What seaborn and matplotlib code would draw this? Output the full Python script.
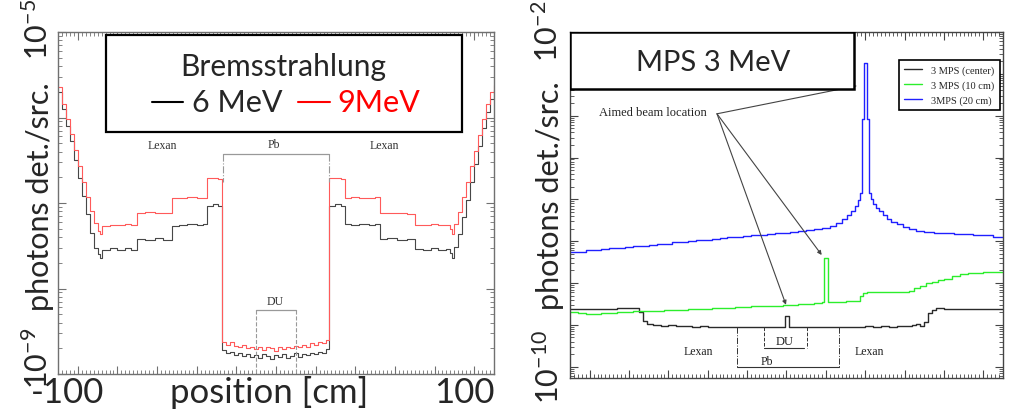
import numpy as np
import pandas as pd
import seaborn as sns
import matplotlib.pyplot as plt
from matplotlib.patches import Rectangle
from matplotlib.ticker import MultipleLocator, LogLocator, NullFormatter

# ---- left panel: bremsstrahlung scan (position in cm, log10 of photons det./src.)
pos_brems = [-110, -108, -106, -104, -102, -100, -98, -96, -94, -92, -90, -89,
             -88, -84, -80, -76, -73,
             -70, -66, -61, -57,
             -52.5, -49, -45, -40, -37,
             -35, -32, -29.5,
             -27, -25, -23, -21, -19, -17, -15, -13, -11, -9, -7, -5, -3, -1,
             1, 3, 5, 7, 9, 11, 13, 15, 17, 19, 21, 23, 25,
             27, 30, 33,
             35, 38, 42, 47, 50,
             52.5, 56, 61, 66,
             70, 74, 78, 82, 86,
             88, 89, 90, 92, 94, 96, 98, 100, 102, 104, 106, 108, 110]
log_6mev = [-5.70, -5.90, -6.10, -6.28, -6.50, -6.71, -6.92, -7.13, -7.35, -7.53, -7.60, -7.64,
            -7.55, -7.53, -7.545, -7.53, -7.545,
            -7.42, -7.43, -7.41, -7.43,
            -7.27, -7.26, -7.25, -7.26, -7.24,
            -7.04, -7.01, -7.03,
            -8.72, -8.75, -8.74, -8.78, -8.76, -8.79, -8.77, -8.80, -8.78, -8.81, -8.77, -8.79, -8.82, -8.78,
            -8.80, -8.77, -8.81, -8.79, -8.76, -8.80, -8.77, -8.78, -8.75, -8.77, -8.74, -8.76, -8.71,
            -7.03, -7.01, -7.04,
            -7.25, -7.26, -7.24, -7.26, -7.25,
            -7.42, -7.41, -7.43, -7.42,
            -7.54, -7.545, -7.53, -7.55, -7.54,
            -7.58, -7.64, -7.52, -7.36, -7.16, -6.96, -6.75, -6.54, -6.33, -6.12, -5.93, -5.78, -5.68]
log_9mev = [-5.64, -5.84, -6.02, -6.19, -6.38, -6.57, -6.75, -6.93, -7.09, -7.23, -7.33, -7.36,
            -7.27, -7.255, -7.26, -7.25, -7.26,
            -7.12, -7.11, -7.12, -7.115,
            -6.94, -6.945, -6.935, -6.94, -6.945,
            -6.71, -6.71, -6.715,
            -8.63, -8.66, -8.62, -8.67, -8.69, -8.66, -8.70, -8.68, -8.71, -8.69, -8.72, -8.68, -8.70, -8.73,
            -8.69, -8.71, -8.68, -8.70, -8.67, -8.69, -8.66, -8.68, -8.64, -8.66, -8.62, -8.64, -8.60,
            -6.71, -6.705, -6.715,
            -6.94, -6.935, -6.945, -6.94, -6.935,
            -7.12, -7.115, -7.12, -7.125,
            -7.255, -7.26, -7.25, -7.26, -7.255,
            -7.30, -7.36, -7.25, -7.10, -6.93, -6.75, -6.57, -6.39, -6.20, -6.02, -5.84, -5.70, -5.62]

# ---- right panel: MPS 3 MeV
pos_center = [-110, -106, -102, -98, -94, -90, -86, -82, -78, -75, -73, -71,
              -68, -64, -60, -56, -52, -48, -44, -40, -36, -32, -28, -24, -20, -16, -12, -8, -4,
              -0.8, 1.4,
              4, 8, 12, 16, 20, 24, 28, 32, 36, 40, 44, 48, 52, 56, 60, 64,
              66, 68, 70, 72, 74, 76,
              80, 85, 90, 95, 100, 105, 110]
log_center = [-8.63, -8.62, -8.625, -8.615, -8.62, -8.61, -8.60, -8.59, -8.595, -8.70, -8.90, -8.98,
              -9.00, -9.02, -9.01, -9.03, -9.02, -9.04, -9.03, -9.05, -9.04, -9.06, -9.05, -9.06, -9.04,
              -9.06, -9.05, -9.06, -9.05,
              -8.79, -9.05,
              -9.06, -9.05, -9.06, -9.05, -9.06, -9.04, -9.05, -9.04, -9.05, -9.03, -9.04, -9.03, -9.04,
              -9.02, -9.03, -9.01,
              -8.98, -9.02, -8.92, -8.72, -8.64, -8.60,
              -8.61, -8.62, -8.615, -8.62, -8.625, -8.63, -8.63]

pos_10cm = [-110, -106, -102, -98, -94, -90, -86, -82, -78, -74, -70, -66, -62, -58, -54, -50, -46,
            -42, -38, -34, -30, -26, -22, -18, -14, -10, -6, -2, 2, 6, 10, 14, 18,
            19.2, 21.2,
            25, 30, 35, 37.3, 39, 40.7,
            45, 50, 55, 59, 62, 65, 68, 71, 74, 77, 80, 84, 88, 92, 96, 100, 105, 110]
log_10cm = [-8.69, -8.72, -8.74, -8.735, -8.72, -8.715, -8.70, -8.695, -8.68, -8.675, -8.665, -8.66,
            -8.65, -8.645, -8.635, -8.625, -8.62, -8.61, -8.60, -8.59, -8.585, -8.575, -8.57, -8.56,
            -8.555, -8.545, -8.54, -8.525, -8.515, -8.50, -8.49, -8.47, -8.46,
            -7.41, -8.445,
            -8.445, -8.44, -8.42, -8.32, -8.25, -8.22,
            -8.22, -8.215, -8.21, -8.21, -8.18, -8.12, -8.06, -8.01, -7.97, -7.93, -7.90, -7.84,
            -7.79, -7.77, -7.75, -7.74, -7.73, -7.73]

pos_20cm = [-110, -106, -102, -98, -94, -90, -86, -82, -78, -74, -70, -66, -62, -58, -54, -50, -46,
            -42, -38, -34, -30, -26, -22, -18, -14, -10, -6, -2, 2, 6, 10, 14, 18, 22,
            25, 28, 31, 33, 35, 36.5, 37.5,
            38.2, 39.5, 41.1, 42.1,
            43, 44.1, 45.5, 47, 49, 51, 53, 56, 59, 62, 66,
            70, 75, 80, 85, 90, 95, 100, 105, 110]
log_20cm = [-7.27, -7.25, -7.22, -7.21, -7.19, -7.17, -7.16, -7.14, -7.12, -7.11, -7.09, -7.07,
            -7.06, -7.03, -7.02, -6.99, -6.98, -6.96, -6.94, -6.93, -6.91, -6.89, -6.88, -6.85,
            -6.84, -6.82, -6.81, -6.80, -6.78, -6.76, -6.74, -6.71, -6.69, -6.63,
            -6.56, -6.47, -6.38, -6.27, -6.17, -6.02, -5.85,
            -4.07, -2.73, -4.07, -5.85,
            -6.00, -6.10, -6.20, -6.29, -6.38, -6.46, -6.53, -6.60, -6.66, -6.71, -6.75,
            -6.78, -6.80, -6.81, -6.82, -6.83, -6.85, -6.86, -6.89, -6.91]

# material brackets (cm)
pb_left = (-26.6, 26.8)
du_left = (-10.2, 10.1)
pb_right = (-25.3, 26.8)
du_right = (-11.3, 10.3)


def to_df(pos, logs, name):
    return pd.DataFrame({"pos": pos, "flux": 10 ** np.array(logs), "series": name})


def px(x, y):
    # pixel position in the 1012x410 picture -> figure fraction
    return x / 1012, 1 - y / 410


sns.set_style("ticks")
plt.rcParams['font.family'] = ['Lato', 'DejaVu Sans']
plt.rcParams['mathtext.fontset'] = 'custom'
plt.rcParams['mathtext.rm'] = 'Lato'

fig = plt.figure(figsize=(10.12, 4.10), dpi=100)
ax1 = fig.add_axes([0.0573, 0.0854, 0.4308, 0.834])
ax2 = fig.add_axes([0.5632, 0.0756, 0.4279, 0.8439])

brems = pd.concat([to_df(pos_brems, log_6mev, "6 MeV"), to_df(pos_brems, log_9mev, "9MeV")])
sns.lineplot(data=brems, x="pos", y="flux", hue="series",
             palette={"6 MeV": "#474747", "9MeV": "#ff5a5a"}, estimator=None,
             drawstyle="steps-post", linewidth=0.8, legend=False, ax=ax1)

mps = pd.concat([to_df(pos_center, log_center, "3 MPS (center)"),
                 to_df(pos_10cm, log_10cm, "3 MPS (10 cm)"),
                 to_df(pos_20cm, log_20cm, "3MPS (20 cm)")])
sns.lineplot(data=mps, x="pos", y="flux", hue="series",
             hue_order=["3 MPS (center)", "3 MPS (10 cm)", "3MPS (20 cm)"],
             palette={"3 MPS (center)": "#2a2a2a", "3 MPS (10 cm)": "#2cee2c", "3MPS (20 cm)": "#2020ff"},
             estimator=None, drawstyle="steps-post", linewidth=1.0, ax=ax2)

ax1.set_yscale("log")
ax1.set_ylim(1e-9, 1e-5)
ax2.set_yscale("log")
ax2.set_ylim(10 ** -10.27, 1e-2)

for ax, frame in ((ax1, "#707070"), (ax2, "#444444")):
    ax.set_xlim(-110, 110)
    ax.xaxis.set_major_locator(MultipleLocator(20))
    ax.xaxis.set_minor_locator(MultipleLocator(2))
    ax.yaxis.set_major_locator(LogLocator(base=10, numticks=20))
    ax.yaxis.set_minor_locator(LogLocator(base=10, subs=np.arange(2, 10), numticks=100))
    ax.yaxis.set_minor_formatter(NullFormatter())
    ax.tick_params(which="both", direction="in", top=True, right=True,
                   labelbottom=False, labelleft=False, colors=frame)
    ax.tick_params(which="major", length=6, width=0.8)
    ax.tick_params(which="minor", length=3, width=0.6)
    ax.set_xlabel("")
    ax.set_ylabel("")
    for sp in ax.spines.values():
        sp.set_color(frame)
        sp.set_linewidth(1.0)

# left panel annotations
serif = "Liberation Serif"
ax1.text(-57.4, 10 ** -6.318, "Lexan", ha="center", va="center", family=serif, fontsize=8.5, color="#333333")
ax1.text(54.9, 10 ** -6.318, "Lexan", ha="center", va="center", family=serif, fontsize=8.5, color="#333333")
ax1.text(-1, 10 ** -6.31, "Pb", ha="center", va="center", family=serif, fontsize=8.5, color="#333333")
ax1.text(-0.5, 10 ** -8.15, "DU", ha="center", va="center", family=serif, fontsize=8.5, color="#333333")
ax1.plot(pb_left, [10 ** -6.427] * 2, color="#999999", lw=0.9)
for xv in pb_left:
    ax1.plot([xv, xv], [10 ** -6.427, 10 ** -6.75], color="#999999", lw=0.8, ls="-.")
ax1.plot(du_left, [10 ** -8.248] * 2, color="#999999", lw=0.9)
for xv in du_left:
    ax1.plot([xv, xv], [10 ** -8.248, 1e-9], color="#999999", lw=0.8, ls="--")

ax1.add_patch(Rectangle((0.110, 0.7085), 0.816, 0.2825, transform=ax1.transAxes,
                        facecolor="white", edgecolor="black", lw=1.6, zorder=5))
ax1.text(0.516, 0.9015, "Bremsstrahlung", transform=ax1.transAxes, ha="center", va="center",
         fontsize=21.5, zorder=6)
ax1.plot([0.2156, 0.2867], [0.7944] * 2, transform=ax1.transAxes, color="black", lw=1.5, zorder=6)
ax1.text(0.3073, 0.7944, "6 MeV", transform=ax1.transAxes, ha="left", va="center", fontsize=22, zorder=6)
ax1.plot([0.5505, 0.624], [0.7944] * 2, transform=ax1.transAxes, color="red", lw=1.5, zorder=6)
ax1.text(0.6399, 0.7944, "9MeV", transform=ax1.transAxes, ha="left", va="center", fontsize=22,
         color="red", zorder=6)

# right panel annotations
ax2.text(-45, 10 ** -9.62, "Lexan", ha="center", va="center", family=serif, fontsize=8.5, color="#222222")
ax2.text(41.9, 10 ** -9.62, "Lexan", ha="center", va="center", family=serif, fontsize=8.5, color="#222222")
ax2.text(-10.1, 10 ** -9.86, "Pb", ha="center", va="center", family=serif, fontsize=8.5, color="#222222")
ax2.text(-0.9, 10 ** -9.38, "DU", ha="center", va="center", family=serif, fontsize=9, color="#222222")
ax2.plot(pb_right, [10 ** -10.01] * 2, color="#333333", lw=0.8)
for xv in pb_right:
    ax2.plot([xv, xv], [10 ** -9.05, 10 ** -10.01], color="#333333", lw=0.7, ls="-.")
ax2.plot([du_right[0], 9.0], [10 ** -9.55] * 2, color="#333333", lw=0.8)
for xv in du_right:
    ax2.plot([xv, xv], [10 ** -9.05, 10 ** -9.55], color="#333333", lw=0.7, ls="--")

ax2.text(-95.3, 10 ** -3.907, "Aimed beam location", ha="left", va="center", family=serif,
         fontsize=9, color="#222222")
ax2.plot([-35.3, 35.3], [10 ** -3.955, 10 ** -3.29], color="#444444", lw=0.8, zorder=3)
for tx, ty in ((17.9, -7.33), (-0.25, -8.52)):
    ax2.annotate("", xy=(tx, 10 ** ty), xytext=(-35.3, 10 ** -3.955),
                 arrowprops=dict(arrowstyle="-|>", color="#444444", lw=0.8, mutation_scale=6,
                                 shrinkA=0, shrinkB=0))

ax2.add_patch(Rectangle((0.0, 0.834), 0.656, 0.166, transform=ax2.transAxes,
                        facecolor="white", edgecolor="black", lw=1.8, zorder=5))
ax2.text(0.331, 0.912, "MPS 3 MeV", transform=ax2.transAxes, ha="center", va="center",
         fontsize=21, zorder=6)

sns.move_legend(ax2, "upper left", bbox_to_anchor=(0.748, 0.935), title=None, frameon=True,
                fancybox=False, edgecolor="black", framealpha=1, borderpad=0.5,
                handlelength=1.7, handletextpad=0.9, labelspacing=0.55,
                prop={"family": serif, "size": 7.5})
ax2.get_legend().get_frame().set_linewidth(1.2)

# axis texts laid over the panels
fig.text(*px(40, 197), "photons det./src.", rotation=90, ha="center", va="center", fontsize=22)
fig.text(*px(550, 196), "photons det./src.", rotation=90, ha="center", va="center", fontsize=22)
fig.text(*px(38, 30), r"$\mathregular{10^{-5}}$", rotation=90, ha="center", va="center", fontsize=22)
fig.text(*px(38, 358), r"$\mathregular{10^{-9}}$", rotation=90, ha="center", va="center", fontsize=22)
fig.text(*px(548, 31), r"$\mathregular{10^{-2}}$", rotation=90, ha="center", va="center", fontsize=22)
fig.text(*px(549, 367), r"$\mathregular{10^{-10}}$", rotation=90, ha="center", va="center", fontsize=22)
fig.text(*px(68, 393), "-100", ha="center", va="center", fontsize=25)
fig.text(*px(464, 393), "100", ha="center", va="center", fontsize=25)
fig.text(*px(269, 393), "position [cm]", ha="center", va="center", fontsize=25)

fig.savefig("out.png", dpi=100)
